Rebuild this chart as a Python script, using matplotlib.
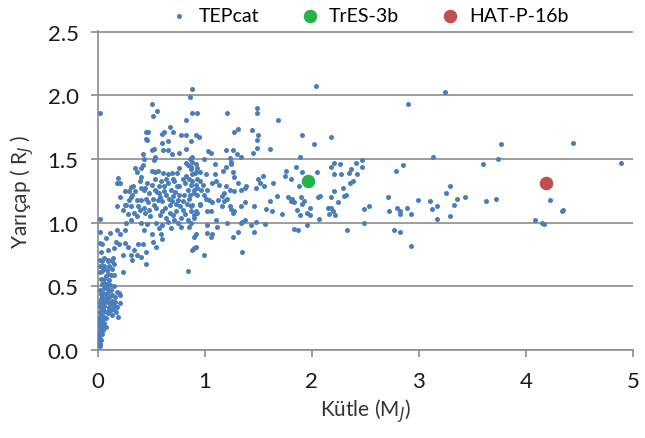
import matplotlib
matplotlib.use("Agg")
import matplotlib.pyplot as plt
import numpy as np

plt.rcParams['font.family'] = ['Lato', 'DejaVu Sans']

# --- TEPcat planets (mass in M_J, radius in R_J) ---
strip_mass = [
    0.04, 0.09, 0.13, 0.06, 0.10, 0.13, 0.04, 0.09, 0.12, 0.15,
    0.23, 0.06, 0.10, 0.45, 0.02, 0.06, 0.09, 0.12, 0.15, 0.18,
    0.20, 0.21, 0.16, 0.13, 0.10, 0.07, 0.04, 0.02, 0.06, 0.09,
    0.12, 0.15, 0.18, 0.21, 0.10, 0.06, 0.02, 0.09, 0.13, 0.19,
    0.04, 0.02, 0.06, 0.07, 0.03, 0.01, 0.04, 0.02, 0.01, 0.02,
    0.01, 0.04, 0.07, 0.10, 0.13, 0.16, 0.01, 0.02, 0.03, 0.01,
    0.02, 0.03, 0.05, 0.03, 0.01, 0.05, 0.03, 0.02, 0.04, 0.05,
    0.03, 0.07, 0.05, 0.03, 0.08, 0.04, 0.06, 0.08, 0.11, 0.03,
    0.07, 0.02, 0.05, 0.08, 0.02, 0.03, 0.00, 0.02, 0.05, 0.04,
    0.08, 0.11, 0.14, 0.17, 0.06, 0.08,
]
strip_radius = [
    0.70, 0.70, 0.70, 0.66, 0.66, 0.64, 0.62, 0.60, 0.59, 0.59,
    0.61, 0.56, 0.55, 0.68, 0.47, 0.49, 0.46, 0.47, 0.50, 0.46,
    0.45, 0.43, 0.42, 0.43, 0.42, 0.41, 0.42, 0.38, 0.37, 0.38,
    0.37, 0.35, 0.34, 0.37, 0.33, 0.31, 0.30, 0.29, 0.28, 0.26,
    0.26, 0.22, 0.21, 0.18, 0.17, 0.14, 0.13, 0.09, 0.07, 0.05,
    0.04, 0.24, 0.25, 0.34, 0.39, 0.38, 0.10, 0.12, 0.15, 0.19,
    0.20, 0.23, 0.27, 0.28, 0.25, 0.32, 0.33, 0.35, 0.36, 0.39,
    0.40, 0.44, 0.45, 0.44, 0.49, 0.52, 0.53, 0.52, 0.51, 0.56,
    0.58, 0.61, 0.64, 0.63, 0.66, 0.08, 0.06, 0.03, 0.16, 0.19,
    0.30, 0.31, 0.32, 0.30, 0.35, 0.40,
]

core_mass = [
    0.18, 0.21, 0.31, 0.33, 0.39, 0.40, 0.50, 0.53, 0.48, 0.59,
    0.62, 0.65, 0.68, 0.71, 0.74, 0.57, 0.64, 0.70, 0.76, 0.81,
    0.84, 0.87, 0.90, 0.93, 0.85, 0.79, 0.73, 0.67, 0.60, 0.56,
    0.51, 0.45, 0.40, 0.36, 0.32, 0.29, 0.26, 0.31, 0.37, 0.43,
    0.48, 0.54, 0.60, 0.67, 0.73, 0.79, 0.87, 0.92, 0.95, 0.90,
    0.84, 0.78, 0.71, 0.65, 0.60, 0.54, 0.57, 0.68, 0.78, 0.85,
    0.59, 0.60, 0.50, 0.43, 0.40, 0.36, 0.31, 0.26, 0.25, 0.21,
    0.18, 0.17, 0.20, 0.11, 0.07, 0.04, 0.03, 0.09, 0.15, 0.06,
    0.09, 0.14, 0.15, 0.25, 0.28, 0.34, 0.37, 0.42, 0.45, 0.51,
    0.54, 0.40, 0.36, 0.31, 0.32, 0.23, 0.84, 0.02, 0.02, 0.02,
    0.02, 0.04,
    0.35, 0.44, 0.47, 0.52, 0.55, 0.58, 0.62, 0.66, 0.69, 0.72,
    0.75, 0.77, 0.80, 0.83, 0.86, 0.63, 0.58, 0.49, 0.44, 0.39,
    0.34, 0.28, 0.23, 0.21, 0.25, 0.70, 0.75, 0.81, 0.46, 0.64,
]
core_radius = [
    1.31, 1.31, 1.28, 1.29, 1.33, 1.27, 1.30, 1.26, 1.23, 1.33,
    1.29, 1.31, 1.26, 1.33, 1.29, 1.23, 1.22, 1.21, 1.22, 1.31,
    1.26, 1.30, 1.23, 1.27, 1.19, 1.17, 1.15, 1.14, 1.17, 1.18,
    1.19, 1.19, 1.18, 1.18, 1.22, 1.18, 1.14, 1.13, 1.13, 1.12,
    1.10, 1.12, 1.09, 1.08, 1.09, 1.10, 1.13, 1.09, 1.15, 1.04,
    1.02, 1.04, 1.02, 1.01, 0.98, 1.00, 0.96, 0.96, 0.97, 0.97,
    0.91, 0.87, 0.91, 0.94, 1.00, 1.05, 1.02, 1.00, 0.94, 0.91,
    0.94, 0.85, 0.83, 0.92, 0.88, 0.83, 0.77, 0.79, 0.80, 0.72,
    0.71, 0.72, 0.68, 0.84, 0.81, 0.79, 0.83, 0.83, 0.77, 0.85,
    0.81, 0.73, 0.75, 0.75, 0.71, 0.75, 0.62, 1.03, 0.93, 0.84,
    0.71, 0.66,
    1.25, 1.27, 1.16, 1.14, 1.24, 1.20, 1.25, 1.19, 1.17, 1.24,
    1.18, 1.13, 1.22, 1.15, 1.22, 1.12, 1.06, 1.05, 1.08, 1.10,
    1.08, 1.07, 1.10, 1.20, 1.25, 1.06, 1.00, 1.07, 0.99, 1.04,
]

upper_mass = [
    0.02, 0.50, 0.55, 0.51, 0.88, 0.86, 0.88, 0.93, 0.82, 0.67,
    0.45, 0.47, 0.60, 0.62, 0.70, 0.45, 0.46, 0.65, 0.60, 0.78,
    0.82, 0.92, 0.94, 0.87, 0.52, 0.50, 0.61, 0.65, 0.42, 0.82,
    0.76, 0.69, 0.53, 0.43, 0.52, 0.88, 0.86, 0.88, 0.82, 0.84,
    0.87, 0.35, 0.40, 0.50, 0.53, 0.56, 0.76, 0.74, 0.61, 0.65,
    0.69, 0.19, 0.40, 0.53, 0.64, 0.70, 0.79, 0.82, 0.85, 0.88,
    0.92, 0.93, 0.76, 0.57, 0.46, 0.43, 0.42, 0.36, 0.29, 0.31,
    0.25, 0.18,
    1.21, 1.27, 1.31, 1.03, 1.06, 1.20, 1.26, 1.30, 1.34, 1.23,
    1.24, 1.24, 0.99, 0.92, 1.09, 0.87, 0.93, 0.95, 0.91, 1.20,
    1.17, 1.09, 1.01, 1.26, 1.27,
]
upper_radius = [
    1.86, 1.93, 1.88, 1.84, 2.05, 1.99, 1.86, 1.86, 1.81, 1.75,
    1.71, 1.71, 1.70, 1.71, 1.71, 1.66, 1.65, 1.64, 1.63, 1.69,
    1.69, 1.69, 1.67, 1.64, 1.58, 1.57, 1.57, 1.57, 1.54, 1.58,
    1.55, 1.54, 1.52, 1.50, 1.49, 1.52, 1.50, 1.48, 1.47, 1.45,
    1.44, 1.43, 1.43, 1.41, 1.40, 1.41, 1.43, 1.39, 1.39, 1.38,
    1.39, 1.35, 1.36, 1.34, 1.34, 1.34, 1.34, 1.37, 1.34, 1.38,
    1.40, 1.34, 1.29, 1.29, 1.31, 1.26, 1.45, 1.40, 1.25, 1.20,
    1.14, 1.13,
    1.86, 1.71, 1.74, 1.56, 1.55, 1.57, 1.57, 1.54, 1.52, 1.51,
    1.48, 1.46, 1.50, 1.46, 1.46, 1.42, 1.43, 1.40, 1.39, 1.44,
    1.41, 1.38, 1.38, 1.40, 1.36,
]

mid_mass = [
    0.88, 0.92, 0.95, 0.98, 0.90, 0.96, 0.93, 0.99, 1.02, 1.01,
    1.04, 1.07, 1.10, 1.13, 1.20, 1.23, 1.27, 1.31, 1.34, 1.37,
    1.38, 1.46, 1.37, 1.34, 1.27, 1.26, 1.24, 1.18, 1.16, 1.21,
    1.18, 1.16, 1.23, 1.12, 1.07, 1.06, 1.02, 0.93, 0.90, 0.95,
    0.88, 0.87, 0.87, 1.02, 1.10, 1.11, 1.21, 1.35, 1.34, 1.37,
    1.43, 1.46, 1.31, 1.26, 1.06, 1.07, 1.02, 0.92, 0.90, 0.90,
    0.88, 0.99, 1.35, 0.92,
    1.44, 1.50, 1.49, 1.49, 1.45, 1.61, 1.49, 1.49, 1.68, 1.54,
    1.50, 1.51, 1.55, 1.48, 1.64, 1.75, 1.76, 1.67, 1.78, 1.61,
    1.57, 1.63, 1.72, 1.48, 1.56, 1.80,
]
mid_radius = [
    1.33, 1.30, 1.33, 1.30, 1.26, 1.26, 1.22, 1.22, 1.26, 1.19,
    1.18, 1.31, 1.33, 1.30, 1.29, 1.26, 1.25, 1.31, 1.26, 1.27,
    1.29, 1.13, 1.16, 1.13, 1.09, 1.08, 1.11, 1.23, 1.21, 1.19,
    1.17, 1.13, 1.13, 1.18, 1.16, 1.09, 1.09, 1.08, 1.06, 1.14,
    1.14, 1.09, 1.00, 0.98, 1.02, 0.97, 1.00, 1.01, 1.00, 1.02,
    0.98, 0.93, 0.93, 0.89, 0.89, 0.91, 0.92, 0.91, 0.89, 0.80,
    0.79, 0.75, 0.77, 0.81,
    1.73, 1.69, 1.65, 1.59, 1.55, 1.58, 1.90, 1.86, 1.81, 1.37,
    1.34, 1.31, 1.29, 1.27, 1.31, 1.37, 1.41, 1.21, 1.20, 1.17,
    1.11, 1.09, 1.07, 1.01, 0.99, 1.17,
]

heavy_mass = [
    2.04, 3.24, 2.90, 1.91, 2.18, 2.02, 1.89, 3.13, 1.85, 1.91,
    2.05, 2.21, 2.18, 2.26, 2.21, 2.27, 2.41, 2.47, 2.47, 2.35,
    2.37, 2.42, 2.38, 2.36, 2.29, 2.21, 2.32, 2.30, 2.18, 2.24,
    2.08, 2.06, 1.88, 1.80, 1.81, 1.90, 1.93, 1.83, 1.91, 1.98,
    1.86, 1.95, 1.89, 1.98, 2.07, 2.15, 2.18, 2.20, 2.16, 2.22,
    1.95, 1.83, 1.87, 2.33, 2.49, 2.49, 2.53, 2.71, 2.72, 2.80,
    2.82, 2.82, 2.89, 2.93, 2.99, 3.10, 3.12, 3.17, 3.17, 3.25,
    3.29, 3.29, 2.77, 2.82, 2.93, 2.79, 2.85,
    3.77, 4.44, 3.60, 3.74, 4.89, 3.33, 3.36, 3.43, 3.63, 3.72,
    4.23, 4.09, 4.15, 4.17, 4.34, 4.35,
]
heavy_radius = [
    2.07, 2.03, 1.93, 1.69, 1.67, 1.62, 1.52, 1.52, 1.44, 1.40,
    1.40, 1.47, 1.44, 1.46, 1.38, 1.38, 1.47, 1.49, 1.44, 1.39,
    1.42, 1.38, 1.33, 1.31, 1.27, 1.25, 1.22, 1.21, 1.20, 1.16,
    1.21, 1.20, 1.29, 1.34, 1.19, 1.20, 1.17, 1.16, 1.15, 1.12,
    1.10, 1.08, 1.06, 1.06, 1.03, 1.12, 1.12, 1.09, 1.07, 1.06,
    0.98, 0.95, 0.94, 0.94, 1.00, 1.11, 1.13, 1.20, 1.09, 1.12,
    1.09, 1.07, 1.12, 1.07, 1.18, 1.17, 1.11, 1.13, 1.03, 1.23,
    1.29, 1.05, 0.94, 0.93, 0.82, 1.41, 1.45,
    1.62, 1.63, 1.46, 1.50, 1.47, 1.14, 1.19, 1.20, 1.17, 1.19,
    1.18, 1.02, 1.00, 0.99, 1.09, 1.10,
]

tres_mass, tres_radius = 1.96, 1.33
hat_mass, hat_radius = 4.19, 1.31

tep_mass = np.concatenate([strip_mass, core_mass, upper_mass, mid_mass, heavy_mass])
tep_radius = np.concatenate([strip_radius, core_radius, upper_radius, mid_radius, heavy_radius])

fig = plt.figure(figsize=(6.45, 4.39), dpi=100)
ax = fig.add_axes([0.152, 0.200, 0.829, 0.727])

ax.scatter(tep_mass, tep_radius, s=13, color="#4a7ebb", linewidths=0,
           zorder=3, label="TEPcat")
ax.scatter([tres_mass], [tres_radius], s=95, color="#26b34a", linewidths=0,
           zorder=4, label="TrES-3b")
ax.scatter([hat_mass], [hat_radius], s=95, color="#c0504d", linewidths=0,
           zorder=4, label="HAT-P-16b")

ax.set_xlim(0, 5)
ax.set_ylim(0, 2.505)
ax.set_xticks(range(0, 6))
ax.set_yticks(np.arange(0, 2.51, 0.5))
ax.set_yticklabels([f"{v:.1f}" for v in np.arange(0, 2.51, 0.5)])

grid_gray = "#8c8c8c"
ax.yaxis.grid(True, color=grid_gray, linewidth=1.2)
ax.set_axisbelow(True)
for side in ("top", "right"):
    ax.spines[side].set_visible(False)
for side in ("left", "bottom"):
    ax.spines[side].set_color(grid_gray)
    ax.spines[side].set_linewidth(1.2)
ax.tick_params(direction="out", length=5, width=1.2, color=grid_gray,
               labelsize=16, labelcolor="#1a1a1a")
ax.tick_params(axis="x", pad=10)
ax.tick_params(axis="y", pad=9)

ax.set_xlabel("Kütle (M$_J$)", fontsize=15, color="#333333", labelpad=4)
ax.set_ylabel("Yarıçap ( R$_J$ )", fontsize=15, color="#333333", labelpad=8)

fig.legend(loc="center", bbox_to_anchor=(0.565, 0.963), ncol=3, frameon=False,
           fontsize=14, handletextpad=0.0, columnspacing=1.6, borderaxespad=0)

fig.savefig("out.png", dpi=100)
